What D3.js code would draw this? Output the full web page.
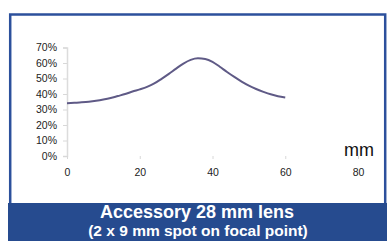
<!DOCTYPE html>
<html>
<head>
<meta charset="utf-8">
<title>Accessory 28 mm lens</title>
<style>
body { margin: 0; background: #fff; }
svg { display: block; font-family: "Liberation Sans", Arial, sans-serif; }
</style>
</head>
<body>
<script src="https://cdnjs.cloudflare.com/ajax/libs/d3/7.8.5/d3.min.js"></script>
<script>

// position along the beam (mm) and relative intensity (%)
var positions = [0, 2, 4, 6, 8, 10, 12, 14, 16, 18, 20, 22, 24, 26, 28, 30,
                 32, 34, 36, 38, 40, 42, 44, 46, 48, 50, 52, 54, 56, 58, 60];
var intensity = [34.0, 34.3, 34.6, 35.0, 35.6, 36.4, 37.4, 38.7, 40.0, 41.6, 43.0,
                 44.6, 46.8, 49.8, 53.0, 56.4, 59.6, 62.0, 63.0, 62.6, 60.8,
                 57.6, 54.2, 51.0, 48.0, 45.4, 43.2, 41.4, 39.8, 38.6, 37.8];
var xTicks = [0, 20, 40, 60, 80];
var yTicks = [0, 10, 20, 30, 40, 50, 60, 70];
var title = "Accessory 28 mm lens";
var subtitle = "(2 x 9 mm spot on focal point)";
var unit = "mm";

var W = 390, H = 247;

var svg = d3.select('body').append('svg')
	.attr('width', W)
	.attr('height', H);

// frame
svg.append('rect')
	.attr('x', 10.2).attr('y', 14.5)
	.attr('width', 375).attr('height', 192)
	.attr('fill', '#fff')
	.attr('stroke', '#2c509c')
	.attr('stroke-width', 2.5);

// caption band
svg.append('rect')
	.attr('x', 8).attr('y', 203)
	.attr('width', 379).attr('height', 38)
	.attr('fill', '#264b8f');

var x = d3.scaleLinear().domain([0, 80]).range([67, 358]);
var y = d3.scaleLinear().domain([0, 70]).range([156, 47.5]);

var yAxis = svg.append('g')
	.attr('transform', 'translate(' + x(0) + ',0)')
	.call(d3.axisLeft(y).tickValues(yTicks).tickSize(4).tickPadding(6)
		.tickFormat(function(d){ return d + '%'; }));

var xAxis = svg.append('g')
	.attr('transform', 'translate(0,' + y(0) + ')')
	.call(d3.axisBottom(x).tickValues(xTicks).tickSize(3).tickPadding(10));

xAxis.select('.domain').remove();
yAxis.select('.domain').attr('stroke', '#dcdcdc').attr('stroke-width', 1.5);
svg.selectAll('.tick line').attr('stroke', '#d8d8d8');
svg.selectAll('.tick text')
	.attr('fill', '#222')
	.style('font-size', '10.5px')
	.style('font-family', '"Liberation Sans", Arial, sans-serif');

var line = d3.line()
	.x(function(d, i){ return x(positions[i]); })
	.y(function(d){ return y(d); })
	.curve(d3.curveMonotoneX);

svg.append('path')
	.datum(intensity)
	.attr('d', line)
	.attr('fill', 'none')
	.attr('stroke', '#5f5a86')
	.attr('stroke-width', 2);

svg.append('text')
	.attr('x', 359).attr('y', 156)
	.attr('text-anchor', 'middle')
	.attr('fill', '#111')
	.style('font-size', '18px')
	.text(unit);

svg.append('text')
	.attr('x', 197).attr('y', 217.5)
	.attr('text-anchor', 'middle')
	.attr('fill', '#fff')
	.style('font-size', '18px')
	.style('font-weight', 'bold')
	.text(title);

svg.append('text')
	.attr('x', 198).attr('y', 235.5)
	.attr('text-anchor', 'middle')
	.attr('fill', '#fff')
	.style('font-size', '15.5px')
	.style('font-weight', 'bold')
	.text(subtitle);

</script>
</body>
</html>
